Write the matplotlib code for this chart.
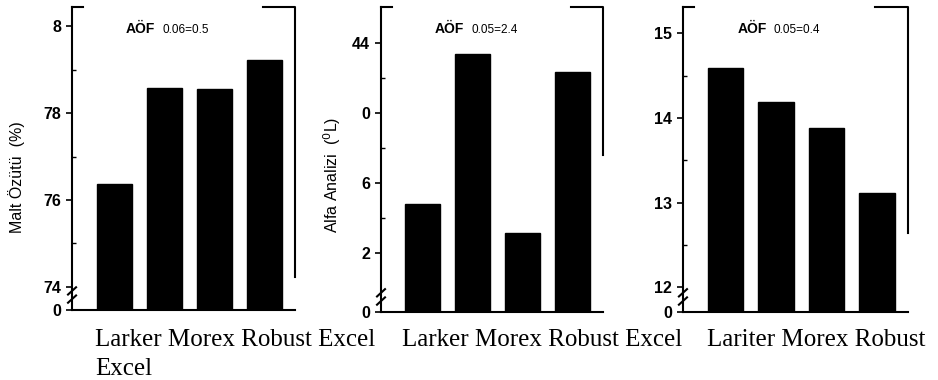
import matplotlib.pyplot as plt
from matplotlib.ticker import FixedLocator

# Data
varieties_1 = ["Larker", "Morex", "Robust", "Excel"]
varieties_2 = ["Larker", "Morex", "Robust", "Excel"]
varieties_3 = ["Lariter", "Morex", "Robust", "Excel"]

malt_extract = [76.37, 78.57, 78.56, 79.22]       # Malt Özütü (%)
alpha_analysis = [34.8, 43.37, 33.14, 42.34]      # Alfa Analizi (°L)
third_trait = [14.59, 14.19, 13.88, 13.12]

lsd_1 = ("0.06", "0.5")
lsd_2 = ("0.05", "2.4")
lsd_3 = ("0.05", "0.4")

# axis tick values and the (scanned) labels printed next to them
ticks_1 = [74, 76, 78, 80]
labels_1 = ["74", "76", "78", "8"]
minor_1 = [75, 77, 79]
ticks_2 = [32, 36, 40, 44]
labels_2 = ["2", "6", "0", "44"]
minor_2 = [34, 38, 42]
ticks_3 = [12, 13, 14, 15]
labels_3 = ["12", "13", "14", "15"]
minor_3 = [12.5, 13.5, 14.5]

plt.rcParams["font.family"] = ["Liberation Sans", "DejaVu Sans"]

fig = plt.figure(figsize=(9.38, 3.8), dpi=100)
fig.patch.set_facecolor("white")


def panel(rect, values, ylim, ticks, labels, minor, lsd, ylabel, right_end,
          label_xy=None):
    ax = fig.add_axes(rect)
    x = range(len(values))
    ax.bar(x, [v - ylim[0] for v in values], bottom=ylim[0], width=0.7,
           color="black", edgecolor="black")
    ax.set_xlim(-0.84, 3.61)
    ax.set_ylim(*ylim)

    ax.yaxis.set_major_locator(FixedLocator([ylim[0]] + ticks))
    ax.set_yticklabels(["0"] + labels)
    ax.yaxis.set_minor_locator(FixedLocator(minor))
    ax.tick_params(axis="y", which="major", direction="out", length=4,
                   width=1.2, pad=4, labelsize=11.5)
    ax.tick_params(axis="y", which="minor", direction="in", length=3, width=1)
    for lab in ax.get_yticklabels():
        lab.set_fontweight("bold")
    ax.set_xticks([])

    for s in ["left", "bottom"]:
        ax.spines[s].set_linewidth(1.5)
    ax.spines["top"].set_visible(False)
    ax.spines["right"].set_visible(False)

    # broken frame as in the scan
    kw = dict(transform=ax.transAxes, color="black", lw=1.5, clip_on=False)
    ax.plot([0, 0.05], [1, 1], **kw)
    ax.plot([0.855, 1, 1], [1, 1, right_end], **kw)

    # axis break marks
    for yb in (0.036, 0.063):
        ax.plot([-0.018, 0.018], [yb - 0.012, yb + 0.012], **kw)

    t = ax.text(0.242, 0.915, "AÖF", transform=ax.transAxes, fontsize=10,
                fontweight="bold", va="baseline")
    ax.annotate(lsd[0] + "=" + lsd[1], xy=(1, 0), xycoords=t,
                xytext=(5, 0), textcoords="offset points", fontsize=8.5,
                va="bottom")

    if ylabel:
        ax.set_ylabel(ylabel, fontsize=11.5)
        ax.yaxis.set_label_coords(*label_xy)
    return ax


ax1 = panel([0.0768, 0.1842, 0.2377, 0.7974], malt_extract, (73.47, 80.44),
            ticks_1, labels_1, minor_1, lsd_1, "Malt Özütü  (%)", 0.109,
            (-0.213, 0.44))
ax2 = panel([0.4062, 0.1789, 0.2367, 0.8026], alpha_analysis, (28.63, 46.06),
            ticks_2, labels_2, minor_2, lsd_2, "Alfa Analizi  ($^0$L)", 0.515,
            (-0.172, 0.45))
ax3 = panel([0.7281, 0.1789, 0.2399, 0.8026], third_trait, (11.71, 15.31),
            ticks_3, labels_3, minor_3, lsd_3, None, 0.26)

# variety names typed below the panels (wrapped text in the source)
serif = dict(family=["Liberation Serif", "DejaVu Serif"], fontsize=18,
             va="baseline")
fig.text(95 / 938, 0.0895, " ".join(varieties_1), **serif)
fig.text(402 / 938, 0.0895, " ".join(varieties_2), **serif)
fig.text(707 / 938, 0.0895, " ".join(varieties_3[:3]), **serif)
fig.text(95 / 938, 0.013, varieties_3[3], **serif)

fig.savefig("out.png", dpi=100, facecolor="white")
